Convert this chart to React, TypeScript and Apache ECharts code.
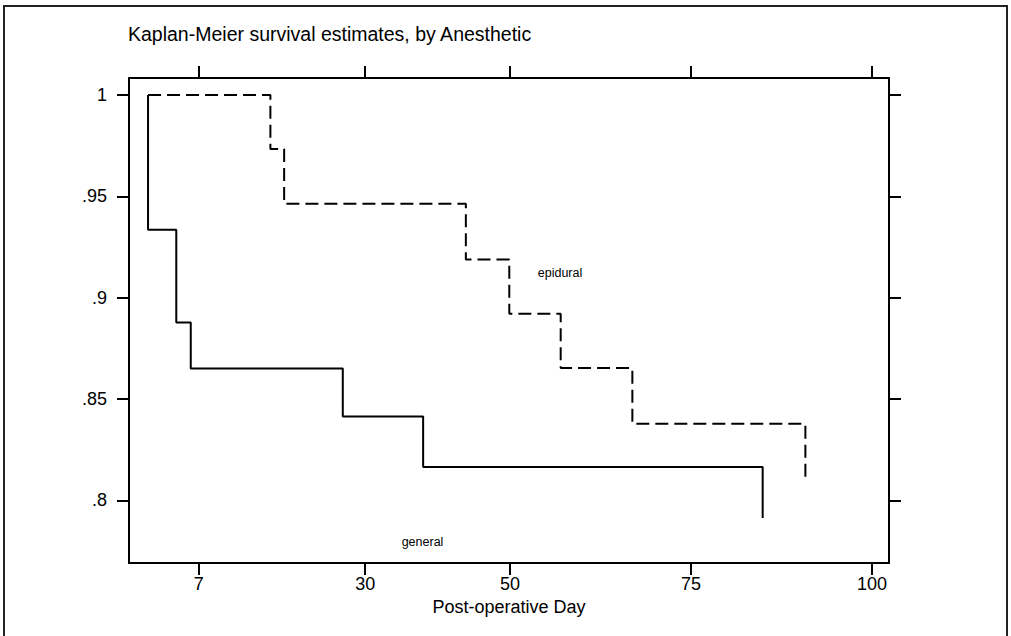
import React, { useEffect, useRef } from "react";
import * as echarts from "echarts";

const generalTimes = [0, 0, 3.9, 5.9, 26.9, 38, 84.9];
const generalSurv = [1, 0.9335, 0.8878, 0.8651, 0.8414, 0.8165, 0.7913];
const epiduralTimes = [0, 16.9, 18.8, 43.9, 49.9, 57, 66.9, 90.8];
const epiduralSurv = [1, 0.9734, 0.9464, 0.9188, 0.8921, 0.8653, 0.8378, 0.8107];
const xTicks = [7, 30, 50, 75, 100];
const yTicks = [0.8, 0.85, 0.9, 0.95, 1];
const yTickLabels = [".8", ".85", ".9", ".95", "1"];

const FONT = "'Liberation Sans', Arial, Helvetica, sans-serif";

export default function App() {
  const ref = useRef<HTMLDivElement>(null);
  useEffect(() => {
    if (!ref.current) return;
    const chart = echarts.init(ref.current, null, { renderer: "svg" });
    const xMin = -2.63, xMax = 102.35, yMin = 0.7691, yMax = 1.0084;
    const axisLine = { show: true, onZero: false, lineStyle: { color: "#000", width: 2 } };
    const tick = (vals: number[]) => ({ show: true, inside: false, length: 12, customValues: vals, lineStyle: { color: "#000", width: 2 } });
    chart.setOption({
      animation: false,
      backgroundColor: "#fff",
      title: {
        text: "Kaplan-Meier survival estimates, by Anesthetic",
        left: 128, top: 24, padding: 0,
        textStyle: { fontFamily: FONT, fontSize: 19.5, fontWeight: "normal", color: "#000" },
      },
      grid: { left: 129, right: 122, top: 78, bottom: 73 },
      xAxis: [
        {
          type: "value", min: xMin, max: xMax, position: "bottom",
          axisLine, axisTick: tick(xTicks), splitLine: { show: false },
          axisLabel: { customValues: xTicks, margin: 12, color: "#000", fontSize: 18, fontFamily: FONT },
          name: "Post-operative Day", nameLocation: "middle", nameGap: 33,
          nameTextStyle: { color: "#000", fontSize: 18, fontFamily: FONT },
        },
        {
          type: "value", min: xMin, max: xMax, position: "top",
          axisLine, axisTick: tick(xTicks), splitLine: { show: false },
          axisLabel: { show: false },
        },
      ],
      yAxis: [
        {
          type: "value", min: yMin, max: yMax, position: "left",
          axisLine, axisTick: tick(yTicks), splitLine: { show: false },
          axisLabel: {
            customValues: yTicks, margin: 22, color: "#000", fontSize: 18, fontFamily: FONT,
            formatter: (v: number) => { const i = yTicks.findIndex((t) => Math.abs(t - v) < 1e-6); return i >= 0 ? yTickLabels[i] : ""; },
          },
        },
        {
          type: "value", min: yMin, max: yMax, position: "right",
          axisLine, axisTick: tick(yTicks), splitLine: { show: false },
          axisLabel: { show: false },
        },
      ],
      series: [
        {
          name: "general", type: "line", step: "end", showSymbol: false, symbol: "none",
          data: generalTimes.map((t, i) => [t, generalSurv[i]]),
          lineStyle: { color: "#000", width: 2, type: "solid" },
          xAxisIndex: 0, yAxisIndex: 0,
        },
        {
          name: "epidural", type: "line", step: "end", showSymbol: false, symbol: "none",
          data: epiduralTimes.map((t, i) => [t, epiduralSurv[i]]),
          lineStyle: { color: "#000", width: 2, type: [13, 6] },
          xAxisIndex: 0, yAxisIndex: 0,
        },
      ],
      graphic: [
        { type: "rect", shape: { x: 4, y: 6, width: 1003, height: 650 }, style: { fill: "none", stroke: "#222", lineWidth: 2 }, silent: true },
        { type: "text", x: 560, y: 273, style: { text: "epidural", fontSize: 12.5, fontFamily: FONT, fill: "#000", align: "center", verticalAlign: "middle" } },
        { type: "text", x: 422.5, y: 541.5, style: { text: "general", fontSize: 12.5, fontFamily: FONT, fill: "#000", align: "center", verticalAlign: "middle" } },
      ],
    });
    return () => chart.dispose();
  }, []);
  return <div ref={ref} style={{ position: "fixed", left: 0, top: 0, width: 1011, height: 636 }} />;
}
